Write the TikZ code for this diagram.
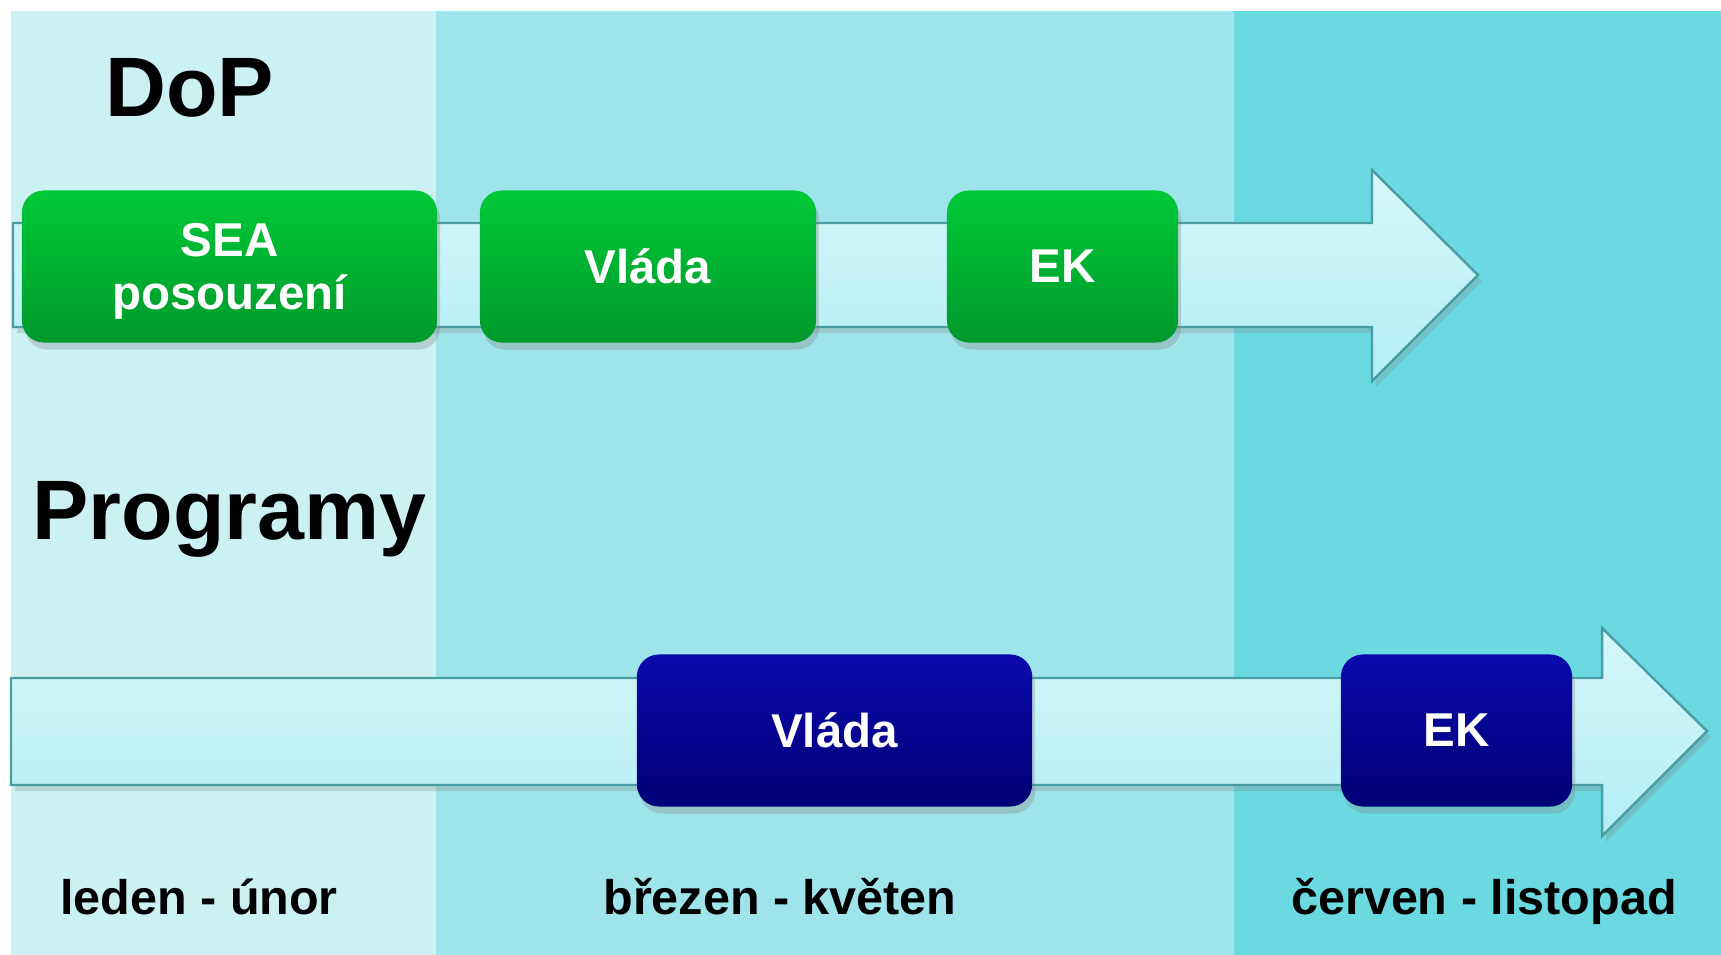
\documentclass[tikz,border=0pt]{standalone}
\usepackage{fontspec}
\setmainfont{Liberation Sans}
\usepackage{tikz}
\usetikzlibrary{shadows}

\definecolor{bandA}{HTML}{CCF1F3}
\definecolor{bandB}{HTML}{9EE4EA}
\definecolor{bandC}{HTML}{6BD9E0}
\definecolor{arrowtop}{HTML}{D6F7FA}
\definecolor{arrowbottom}{HTML}{B2EEF6}
\definecolor{arrowline}{HTML}{4A9EA3}
\definecolor{greentop}{HTML}{00C937}
\definecolor{greenbottom}{HTML}{00992C}
\definecolor{bluetop}{HTML}{0A0AAC}
\definecolor{bluebottom}{HTML}{000076}

\begin{document}
\begin{tikzpicture}[x=0.01cm, y=-0.01cm,
    timearrow/.style={draw=arrowline, line width=0.7pt, top color=arrowtop, bottom color=arrowbottom,
        drop shadow={shadow xshift=0.4mm, shadow yshift=-0.6mm, opacity=0.25}},
    phase/.style={rounded corners=2.2mm, text=white, align=center, inner sep=0pt,
        minimum height=1.52cm, font=\fontsize{13.5}{15}\selectfont\bfseries,
        drop shadow={shadow xshift=0.3mm, shadow yshift=-0.7mm, opacity=0.3}},
    greenbox/.style={phase, top color=greentop, bottom color=greenbottom},
    bluebox/.style={phase, top color=bluetop, bottom color=bluebottom},
    heading/.style={font=\fontsize{24}{28}\selectfont\bfseries, anchor=base west},
    months/.style={font=\fontsize{13.8}{16}\selectfont\bfseries, anchor=base}]
    \useasboundingbox (0,0) rectangle (1721,955);

    % Draw the three period bands
    \fill[bandA] (11,11) rectangle (436,955);
    \fill[bandB] (436,11) rectangle (1234,955);
    \fill[bandC] (1234,11) rectangle (1721,955);

    % Headings
    \node[heading] (dop) at (93,117) {DoP};
    \node[heading] (prog) at (20,540) {Programy};

    % Upper time arrow
    \draw[timearrow] (13,223) -- (1372,223) -- (1372,170) -- (1478,275)
        -- (1372,381) -- (1372,327) -- (13,327) -- cycle;

    % Lower time arrow
    \draw[timearrow] (11,678) -- (1602,678) -- (1602,628) -- (1707,731)
        -- (1602,836) -- (1602,785) -- (11,785) -- cycle;

    % Steps of DoP
    \node[greenbox, minimum width=4.15cm, text depth=0pt] (sea) at (229.5,266.5) {SEA\\posouzení};
    \node[greenbox, minimum width=3.36cm] (vladaA) at (648,266.5) {Vláda};
    \node[greenbox, minimum width=2.31cm] (ekA) at (1062.5,266.5) {EK};

    % Steps of programmes
    \node[bluebox, minimum width=3.95cm] (vladaB) at (834.5,730.5) {Vláda};
    \node[bluebox, minimum width=2.31cm] (ekB) at (1456.5,730.5) {EK};

    % Month labels
    \node[months] (jan) at (199,914) {leden - únor};
    \node[months] (mar) at (780,914) {březen - květen};
    \node[months] (jun) at (1484,914) {červen - listopad};
\end{tikzpicture}
\end{document}
